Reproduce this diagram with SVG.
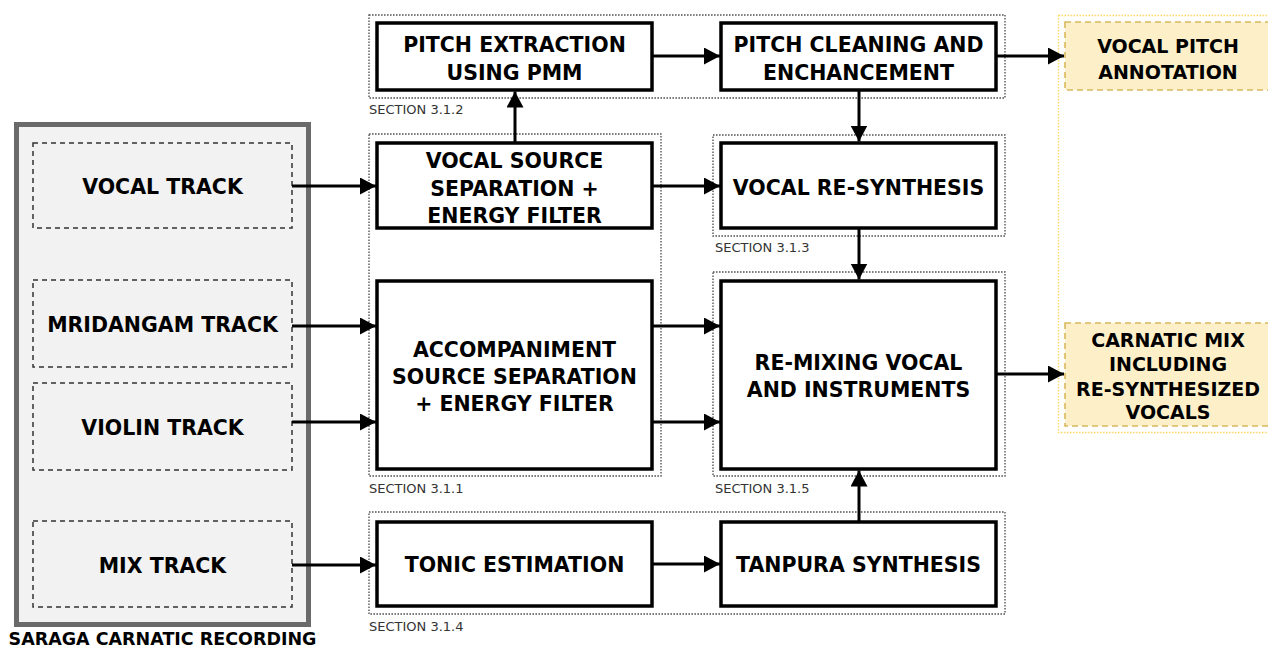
<svg xmlns="http://www.w3.org/2000/svg" width="1268" height="648" viewBox="0 0 1268 648">
<style>
text{font-family:"DejaVu Sans","Verdana",sans-serif;fill:#000}
.b{font-weight:bold;font-size:20.5px;text-anchor:middle}
.o{font-weight:bold;font-size:19px;text-anchor:middle}
.s{font-size:13px;fill:#333}
.proc{fill:#fff;stroke:#000;stroke-width:3.5}
.sec{fill:none;stroke:#555;stroke-width:1.4;stroke-dasharray:1.6 1.4}
.trk{fill:none;stroke:#333;stroke-width:1.5;stroke-dasharray:5 4}
.out{fill:#fdf0c9;stroke:#d9b85c;stroke-width:1.6;stroke-dasharray:6 4}
.conn path{fill:none;stroke:#000;stroke-width:3;marker-end:url(#ah)}
</style>
<defs>
<marker id="ah" markerUnits="userSpaceOnUse" markerWidth="17" markerHeight="18" refX="16" refY="8.5" orient="auto">
<path d="M0,0 L16,8.5 L0,17 z" fill="#000"/>
</marker>
</defs>
<rect width="1268" height="648" fill="#fff"/>

<g id="saraga">
<rect x="16.5" y="124.5" width="292" height="500" fill="#f2f2f2" stroke="#6a6a6a" stroke-width="5"/>
<text class="b" x="162.5" y="645" style="font-size:17.5px">SARAGA CARNATIC RECORDING</text>
</g>
<g id="vocal-track"><rect class="trk" x="33" y="143" width="259" height="85"/><text class="b" x="162.5" y="193.5">VOCAL TRACK</text></g>
<g id="mridangam-track"><rect class="trk" x="33" y="280" width="259" height="87"/><text class="b" x="162.5" y="331.5">MRIDANGAM TRACK</text></g>
<g id="violin-track"><rect class="trk" x="33" y="383" width="259" height="87"/><text class="b" x="162.5" y="434.5">VIOLIN TRACK</text></g>
<g id="mix-track"><rect class="trk" x="33" y="521" width="259" height="86"/><text class="b" x="162.5" y="572.5">MIX TRACK</text></g>

<g id="section-312"><rect class="sec" x="369" y="15" width="636" height="83"/><text class="s" x="369" y="114">SECTION 3.1.2</text></g>
<g id="section-311"><rect class="sec" x="369" y="134" width="292" height="342"/><text class="s" x="369" y="493">SECTION 3.1.1</text></g>
<g id="section-313"><rect class="sec" x="713" y="135" width="292" height="101"/><text class="s" x="715" y="252">SECTION 3.1.3</text></g>
<g id="section-315"><rect class="sec" x="713" y="272" width="292" height="204"/><text class="s" x="715" y="493">SECTION 3.1.5</text></g>
<g id="section-314"><rect class="sec" x="369" y="512" width="636" height="102"/><text class="s" x="369" y="631">SECTION 3.1.4</text></g>

<g id="pitch-extraction"><rect class="proc" x="377" y="23" width="275" height="67"/><text class="b" x="514.5" y="51.5">PITCH EXTRACTION</text><text class="b" x="514.5" y="79.5">USING PMM</text></g>
<g id="pitch-cleaning"><rect class="proc" x="721" y="23" width="275" height="67"/><text class="b" x="858.5" y="51.5">PITCH CLEANING AND</text><text class="b" x="858.5" y="79.5">ENCHANCEMENT</text></g>
<g id="vocal-source"><rect class="proc" x="377" y="143" width="275" height="85"/><text class="b" x="514.5" y="167.5">VOCAL SOURCE</text><text class="b" x="514.5" y="195.5">SEPARATION +</text><text class="b" x="514.5" y="222.5">ENERGY FILTER</text></g>
<g id="vocal-resynthesis"><rect class="proc" x="721" y="143" width="275" height="85"/><text class="b" x="858.5" y="195">VOCAL RE-SYNTHESIS</text></g>
<g id="accompaniment"><rect class="proc" x="377" y="281" width="275" height="188"/><text class="b" x="514.5" y="356.5">ACCOMPANIMENT</text><text class="b" x="514.5" y="383.5">SOURCE SEPARATION</text><text class="b" x="514.5" y="410.5">+ ENERGY FILTER</text></g>
<g id="remixing"><rect class="proc" x="721" y="281" width="275" height="188"/><text class="b" x="858.5" y="369.5">RE-MIXING VOCAL</text><text class="b" x="858.5" y="396.5">AND INSTRUMENTS</text></g>
<g id="tonic"><rect class="proc" x="377" y="522" width="275" height="84"/><text class="b" x="514.5" y="571.5">TONIC ESTIMATION</text></g>
<g id="tanpura"><rect class="proc" x="721" y="522" width="275" height="84"/><text class="b" x="858.5" y="571.5">TANPURA SYNTHESIS</text></g>

<g id="outputs"><rect x="1058.5" y="15.5" width="230" height="417" fill="none" stroke="#ffd866" stroke-width="1.4" stroke-dasharray="1.6 1.4"/></g>
<g id="vocal-pitch-annotation"><rect class="out" x="1065" y="22" width="220" height="68"/><text class="o" x="1168" y="53">VOCAL PITCH</text><text class="o" x="1168" y="79">ANNOTATION</text></g>
<g id="carnatic-mix"><rect class="out" x="1065" y="323" width="220" height="103"/><text class="o" x="1168" y="347">CARNATIC MIX</text><text class="o" x="1168" y="371">INCLUDING</text><text class="o" x="1168" y="396">RE-SYNTHESIZED</text><text class="o" x="1168" y="419">VOCALS</text></g>

<g id="connectors" class="conn">
<path d="M292,186 H376"/>
<path d="M292,326 H376"/>
<path d="M292,422 H376"/>
<path d="M292,565 H376"/>
<path d="M515,143 V91.5"/>
<path d="M652,56 H720"/>
<path d="M996,56 H1064"/>
<path d="M859,90 V141.5"/>
<path d="M652,186 H720"/>
<path d="M859,228 V279.5"/>
<path d="M652,326 H720"/>
<path d="M652,422 H720"/>
<path d="M652,564 H720"/>
<path d="M859,522 V470.5"/>
<path d="M996,374 H1064"/>
</g>
</svg>
